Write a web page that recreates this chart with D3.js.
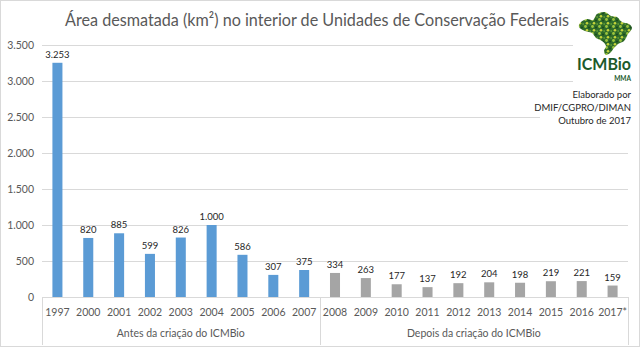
<!DOCTYPE html>
<html>
<head>
<meta charset="utf-8">
<script src="https://cdn.jsdelivr.net/npm/d3@7"></script>
<style>
  body { margin: 0; background: #fff; }
  svg text { font-family: Lato, "Open Sans", sans-serif; }
</style>
</head>
<body>
<div id="chart"></div>
<script>
// deforested area inside federal conservation units, km2 per year
const years = ["1997","2000","2001","2002","2003","2004","2005","2006","2007",
               "2008","2009","2010","2011","2012","2013","2014","2015","2016","2017*"]
const areas = [3253, 820, 885, 599, 826, 1000, 586, 307, 375,
               334, 263, 177, 137, 192, 204, 198, 219, 221, 159]
const groupNames = ["Antes da criação do ICMBio", "Depois da criação do ICMBio"]
const groupSizes = [9, 10]
const groupColors = ["#5b9bd5", "#a5a5a5"]
const yTicks = [0, 500, 1000, 1500, 2000, 2500, 3000, 3500]
const creditLines = ["Elaborado por", "DMIF/CGPRO/DIMAN", "Outubro de 2017"]

let width = 640
let height = 347
const plotLeft = 42, plotRight = 628, plotTop = 45, plotBottom = 297

const ptBR = d3.formatLocale({decimal: ",", thousands: ".", grouping: [3], currency: ["R$", ""]})
const fmt = ptBR.format(",d")

const svg = d3.select("#chart").append("svg")
  .attr("width", width)
  .attr("height", height)

// chart frame
svg.append("rect")
  .attr("x", 0.5).attr("y", 0.5)
  .attr("width", width - 1).attr("height", height - 1)
  .attr("fill", "#fff").attr("stroke", "#d9d9d9")

const x = d3.scaleBand().domain(years).range([plotLeft, plotRight]).paddingInner(0.675).paddingOuter(0.3375)
const y = d3.scaleLinear().domain([0, 3500]).range([plotBottom, plotTop])

// which group each year belongs to
function groupOf(i){
  return i < groupSizes[0] ? 0 : 1
}

// horizontal grid
svg.append("g").selectAll("line")
  .data(yTicks)
  .enter().append("line")
  .attr("x1", plotLeft).attr("x2", plotRight)
  .attr("y1", d => Math.round(y(d)) + 0.5).attr("y2", d => Math.round(y(d)) + 0.5)
  .attr("stroke", "#d9d9d9")

// y tick labels
svg.append("g").selectAll("text")
  .data(yTicks)
  .enter().append("text")
  .attr("x", 34)
  .attr("y", d => y(d) + 4)
  .attr("text-anchor", "end")
  .attr("font-size", 10.5)
  .attr("fill", "#595959")
  .text(d => fmt(d))

// bars
const data = years.map((d, i) => ({year: d, value: areas[i], group: groupOf(i)}))
svg.append("g").selectAll("rect")
  .data(data)
  .enter().append("rect")
  .attr("x", d => x(d.year))
  .attr("y", d => y(d.value))
  .attr("width", x.bandwidth())
  .attr("height", d => y(0) - y(d.value))
  .attr("fill", d => groupColors[d.group])

// value labels
svg.append("g").selectAll("text")
  .data(data)
  .enter().append("text")
  .attr("x", d => x(d.year) + x.bandwidth() / 2)
  .attr("y", d => y(d.value) - 5)
  .attr("text-anchor", "middle")
  .attr("font-size", 9.5)
  .attr("fill", "#262626")
  .text(d => fmt(d.value))

// category axis with two levels
svg.append("line")
  .attr("x1", plotLeft).attr("x2", plotRight)
  .attr("y1", plotBottom + 0.5).attr("y2", plotBottom + 0.5)
  .attr("stroke", "#d9d9d9")

svg.append("g").selectAll("text")
  .data(years)
  .enter().append("text")
  .attr("x", d => x(d) + x.bandwidth() / 2)
  .attr("y", 316)
  .attr("text-anchor", "middle")
  .attr("font-size", 10.5)
  .attr("fill", "#595959")
  .text(d => d)

const step = x.step()
let edges = [plotLeft]
groupSizes.reduce((acc, n) => { edges.push(plotLeft + (acc + n) * step); return acc + n }, 0)

svg.append("g").selectAll("line")
  .data(edges)
  .enter().append("line")
  .attr("x1", d => Math.round(d) + 0.5).attr("x2", d => Math.round(d) + 0.5)
  .attr("y1", plotBottom).attr("y2", 345)
  .attr("stroke", "#d9d9d9")

svg.append("g").selectAll("text")
  .data(groupNames)
  .enter().append("text")
  .attr("x", (d, i) => (edges[i] + edges[i + 1]) / 2)
  .attr("y", 337)
  .attr("text-anchor", "middle")
  .attr("font-size", 10.5)
  .attr("fill", "#595959")
  .text(d => d)

// title
svg.append("text")
  .attr("x", 317)
  .attr("y", 26)
  .attr("text-anchor", "middle")
  .attr("font-size", 18)
  .attr("fill", "#595959")
  .attr("textLength", 504)
  .attr("lengthAdjust", "spacingAndGlyphs")
  .text("Área desmatada (km²) no interior de Unidades de Conservação Federais")

// logo and credits sit on white boxes over the grid
svg.append("rect").attr("x", 573).attr("y", 8).attr("width", 62).attr("height", 80).attr("fill", "#fff")
svg.append("rect").attr("x", 540).attr("y", 87).attr("width", 95).attr("height", 42).attr("fill", "#fff")

const defs = svg.append("defs")
const pat = defs.append("pattern")
  .attr("id", "leafDots")
  .attr("width", 7).attr("height", 7)
  .attr("patternUnits", "userSpaceOnUse")
pat.append("rect").attr("width", 7).attr("height", 7).attr("fill", "#2f6b2a")
pat.append("circle").attr("cx", 1.5).attr("cy", 1.5).attr("r", 1.4).attr("fill", "#9bc43c")
pat.append("circle").attr("cx", 5).attr("cy", 2.5).attr("r", 1.1).attr("fill", "#1b4d1e")
pat.append("circle").attr("cx", 3).attr("cy", 5.2).attr("r", 1.3).attr("fill", "#c5d43a")
pat.append("circle").attr("cx", 6.2).attr("cy", 6).attr("r", 0.9).attr("fill", "#5e9a32")

const brazil = [[3,12],[10,8],[16,9],[20,3],[28,1],[34,5],[40,6],[45,11],[52,13],[55,17],[51,23],
  [47,30],[41,33],[37,37],[33,42],[29,44],[27,40],[29,35],[25,30],[19,27],[15,22],[8,20],[2,16]]

const logo = svg.append("g").attr("transform", "translate(577,11)")
logo.append("path")
  .attr("d", d3.line().curve(d3.curveCatmullRomClosed)(brazil))
  .attr("fill", "url(#leafDots)")

svg.append("text")
  .attr("x", 577).attr("y", 70)
  .attr("font-size", 17).attr("font-weight", "bold")
  .attr("fill", "#1d5a2b")
  .attr("textLength", 54).attr("lengthAdjust", "spacingAndGlyphs")
  .text("ICMBio")
svg.append("text")
  .attr("x", 631).attr("y", 81)
  .attr("text-anchor", "end")
  .attr("font-size", 6.5).attr("font-weight", "bold")
  .attr("fill", "#1d5a2b")
  .text("MMA")

svg.append("g").selectAll("text")
  .data(creditLines)
  .enter().append("text")
  .attr("x", 631)
  .attr("y", (d, i) => 98 + i * 13)
  .attr("text-anchor", "end")
  .attr("font-size", 9.5)
  .attr("fill", "#262626")
  .text(d => d)
</script>
</body>
</html>
